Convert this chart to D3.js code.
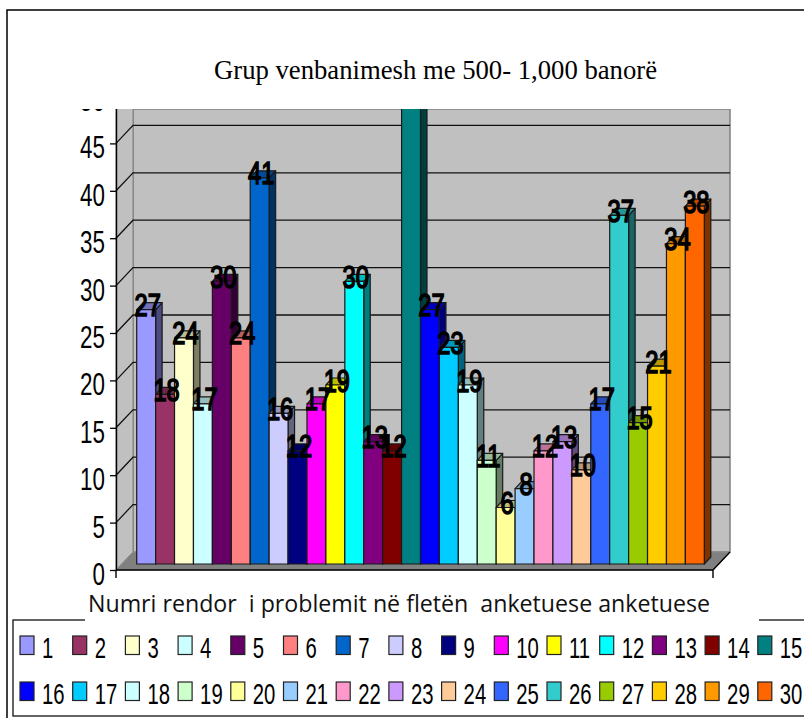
<!DOCTYPE html>
<html lang="en">
  <head>
    <meta charset="UTF-8" />
    <title>Grup venbanimesh me 500- 1,000 banorë</title>
    <script src="https://cdnjs.cloudflare.com/ajax/libs/d3/7.8.5/d3.min.js"></script>
    <style>
      html,
      body {
        margin: 0;
        padding: 0;
        background: #fff;
        overflow: hidden;
      }
      svg {
        display: block;
      }
      .digits {
        font-family: "Liberation Sans", Arial, sans-serif;
        fill: #000;
      }
    </style>
  </head>
  <body>
    <div id="chart"></div>

    <script>
      // Chart data
      const chartTitle = "Grup venbanimesh me 500- 1,000 banorë";
      const axisTitle = "Numri rendor  i problemit në fletën  anketuese anketuese";
      const categories = d3.range(1, 31);
      // item 15 runs off the top of the plot, its value is an estimate
      const values = [
        27, 18, 24, 17, 30, 24, 41, 16, 12, 17, 19, 30, 13, 12, 50, 27, 23, 19,
        11, 6, 8, 12, 13, 10, 17, 37, 15, 21, 34, 38,
      ];
      const colors = [
        "#9999FF", "#993366", "#FFFFCC", "#CCFFFF", "#660066", "#FF8080",
        "#0066CC", "#CCCCFF", "#000080", "#FF00FF", "#FFFF00", "#00FFFF",
        "#800080", "#800000", "#008080", "#0000FF", "#00CCFF", "#CCFFFF",
        "#CCFFCC", "#FFFF99", "#99CCFF", "#FF99CC", "#CC99FF", "#FFCC99",
        "#3366FF", "#33CCCC", "#99CC00", "#FFCC00", "#FF9900", "#FF6600",
      ];
      const yTicks = [0, 5, 10, 15, 20, 25, 30, 35, 40, 45, 50];

      const width = 804;
      const height = 718;

      // 3D layout
      const wallDx = 17;
      const wallDy = 18;
      const barDx = 6.5;
      const barDy = 7;
      const plotTop = 109;

      const svg = d3
        .select("#chart")
        .append("svg")
        .attr("width", width)
        .attr("height", height)
        .attr("viewBox", [0, 0, width, height]);

      svg
        .append("defs")
        .append("clipPath")
        .attr("id", "plot-clip")
        .append("rect")
        .attr("x", 0)
        .attr("y", plotTop)
        .attr("width", width)
        .attr("height", height);

      // Scales
      const y = d3.scaleLinear().domain([0, 50]).range([570, 96]);
      const barY = d3.scaleLinear().domain([0, 50]).range([564, 93]);
      const x = d3
        .scaleBand()
        .domain(categories)
        .range([136.7, 704.3])
        .padding(0);
      const legendX = d3
        .scalePoint()
        .domain(d3.range(0, 15))
        .range([20, 20 + 14 * 52.7]);
      const legendY = d3.scalePoint().domain([0, 1]).range([636, 682]);

      const floorLeft = 116;
      const floorRight = 713;

      // Outer frame
      svg
        .append("path")
        .attr("d", `M7,${height}V10H${width}`)
        .attr("fill", "none")
        .attr("stroke", "#000")
        .attr("stroke-width", 1.5);

      // Walls and floor
      const plot = svg.append("g").attr("clip-path", "url(#plot-clip)");

      plot
        .append("rect")
        .attr("x", floorLeft + wallDx)
        .attr("y", plotTop)
        .attr("width", floorRight - floorLeft)
        .attr("height", y(0) - wallDy - plotTop)
        .attr("fill", "#c0c0c0")
        .attr("stroke", "#808080")
        .attr("stroke-width", 1.5);

      plot
        .append("polygon")
        .attr(
          "points",
          [
            [floorLeft, y(0)],
            [floorLeft + wallDx, y(0) - wallDy],
            [floorLeft + wallDx, plotTop - 5],
            [floorLeft, plotTop - 5],
          ].join(" ")
        )
        .attr("fill", "#c0c0c0")
        .attr("stroke", "#808080");

      plot
        .append("polygon")
        .attr(
          "points",
          [
            [floorLeft, y(0)],
            [floorRight, y(0)],
            [floorRight + wallDx, y(0) - wallDy],
            [floorLeft + wallDx, y(0) - wallDy],
          ].join(" ")
        )
        .attr("fill", "#808080")
        .attr("stroke", "#8c8c8c");

      // Gridlines on the back and side wall
      plot
        .selectAll(".grid")
        .data(yTicks.filter((d) => d > 0))
        .enter()
        .append("path")
        .attr("class", "grid")
        .attr(
          "d",
          (d) =>
            `M${floorLeft},${y(d)}L${floorLeft + wallDx},${y(d) - wallDy}H${
              floorRight + wallDx
            }`
        )
        .attr("fill", "none")
        .attr("stroke", "#111")
        .attr("stroke-width", 1.3);

      // Floor front edge
      svg
        .append("path")
        .attr(
          "d",
          `M${floorLeft},${y(0)}H${floorRight}L${floorRight + wallDx},${
            y(0) - wallDy
          }M${floorLeft},${y(0)}v8M${floorRight},${y(0)}v8`
        )
        .attr("fill", "none")
        .attr("stroke", "#000")
        .attr("stroke-width", 1.4);

      // Bars, drawn left to right so each one covers the side of the last
      const bars = plot
        .selectAll(".bar")
        .data(categories)
        .enter()
        .append("g")
        .attr("class", "bar")
        .attr("stroke", "#1a1a1a")
        .attr("stroke-width", 1.2)
        .attr("stroke-linejoin", "round");

      const barValue = (d) => values[categories.indexOf(d)];
      const barColor = (d) => colors[categories.indexOf(d)];

      bars
        .append("polygon")
        .attr("fill", (d) => d3.rgb(barColor(d)).darker(2).formatHex())
        .attr("points", (d) => {
          const right = x(d) + x.bandwidth();
          const top = barY(barValue(d));
          return [
            [right, top],
            [right + barDx, top - barDy],
            [right + barDx, barY(0) - barDy],
            [right, barY(0)],
          ].join(" ");
        });

      bars
        .append("polygon")
        .attr("fill", (d) => d3.rgb(barColor(d)).darker(0.85).formatHex())
        .attr("points", (d) => {
          const right = x(d) + x.bandwidth();
          const top = barY(barValue(d));
          return [
            [x(d), top],
            [x(d) + barDx, top - barDy],
            [right + barDx, top - barDy],
            [right, top],
          ].join(" ");
        });

      bars
        .append("rect")
        .attr("x", (d) => x(d))
        .attr("y", (d) => barY(barValue(d)))
        .attr("width", x.bandwidth())
        .attr("height", (d) => barY(0) - barY(barValue(d)))
        .attr("fill", barColor);

      // Data labels, the one for item 15 is off the top so it is not drawn
      plot
        .selectAll(".value")
        .data(categories.filter((d) => barY(barValue(d)) > plotTop))
        .enter()
        .append("text")
        .attr("class", "value digits")
        .attr("text-anchor", "middle")
        .attr("font-size", 32)
        .attr("stroke", "#000")
        .attr("stroke-width", 1.6)
        .attr(
          "transform",
          (d) =>
            `translate(${x(d) + x.bandwidth() / 2 + 1.5},${
              barY(barValue(d)) + 6.5
            }) scale(0.74,1)`
        )
        .text(barValue);

      // Y axis
      const axisClip = svg
        .append("g")
        .attr("clip-path", "url(#plot-clip)");
      const axis = axisClip
        .append("g")
        .attr("transform", `translate(${floorLeft},0)`)
        .call(d3.axisLeft(y).tickValues(yTicks).tickSize(6).tickSizeOuter(0));
      axis.select(".domain").attr("stroke", "#000").attr("stroke-width", 1.4);
      axis.selectAll(".tick line").attr("stroke", "#000").attr("stroke-width", 1.3);
      axis
        .selectAll(".tick text")
        .attr("class", "digits")
        .attr("x", null)
        .attr("y", null)
        .attr("dy", null)
        .attr("font-size", 32)
        .attr("text-anchor", "end")
        .attr("transform", "translate(-11,14.5) scale(0.7,1)");

      // Title
      svg
        .append("text")
        .attr("x", 214)
        .attr("y", 79)
        .attr("font-family", '"Liberation Serif", "Times New Roman", serif')
        .attr("font-size", 27)
        .attr("textLength", 443)
        .attr("lengthAdjust", "spacingAndGlyphs")
        .text(chartTitle);

      // Legend box, broken at the top by the axis title
      svg
        .append("rect")
        .attr("x", 13)
        .attr("y", 620)
        .attr("width", width)
        .attr("height", 96)
        .attr("fill", "none")
        .attr("stroke", "#111")
        .attr("stroke-width", 1.3);
      svg
        .append("rect")
        .attr("x", 85)
        .attr("y", 590)
        .attr("width", 674)
        .attr("height", 33)
        .attr("fill", "#fff");

      svg
        .append("text")
        .attr("x", 88)
        .attr("y", 612)
        .attr("xml:space", "preserve")
        .style("white-space", "pre")
        .attr("font-family", '"Open Sans", "Noto Sans", sans-serif')
        .attr("font-size", 23)
        .attr("fill", "#111")
        .attr("textLength", 622)
        .attr("lengthAdjust", "spacingAndGlyphs")
        .text(axisTitle);

      // Legend
      const legend = svg
        .selectAll(".legend-item")
        .data(categories)
        .enter()
        .append("g")
        .attr("class", "legend-item")
        .attr("transform", (d, i) => {
          return `translate(${legendX(i % 15)},${legendY(Math.floor(i / 15))})`;
        });

      legend
        .append("rect")
        .attr("width", 14)
        .attr("height", 18.5)
        .attr("fill", barColor)
        .attr("stroke", "#222")
        .attr("stroke-width", 1.2);

      legend
        .append("text")
        .attr("class", "digits")
        .attr("font-size", 29)
        .attr("transform", "translate(22,22) scale(0.7,1)")
        .text((d) => d);
    </script>
  </body>
</html>
